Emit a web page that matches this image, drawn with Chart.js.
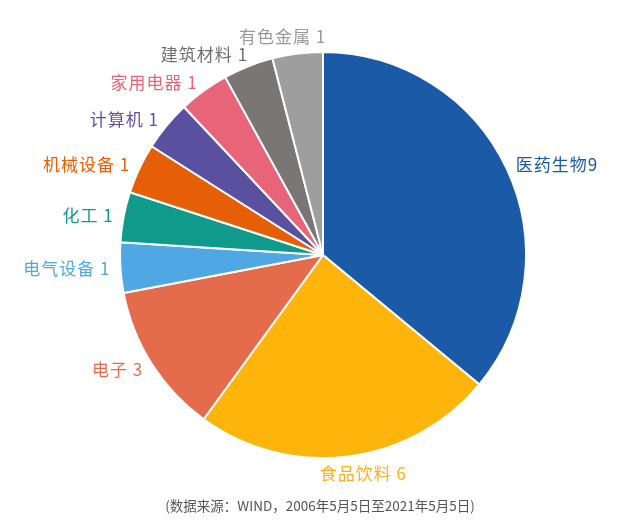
<!DOCTYPE html>
<html>
<head>
<meta charset="utf-8">
<script src="https://cdn.jsdelivr.net/npm/chart.js@4"></script>
<style>
  html, body { margin: 0; padding: 0; background: #fff; }
  #wrap { position: relative; width: 640px; height: 523px; }
  #note {
    position: absolute; left: 0; width: 640px; top: 495px; text-align: center;
    font: 13.5px "Noto Sans CJK SC", sans-serif; color: #555;
  }
</style>
</head>
<body>
<div id="wrap">
  <canvas id="pie" width="640" height="523"></canvas>
  <div id="note">(数据来源：WIND，2006年5月5日至2021年5月5日)</div>
</div>
<script>
(function () {
  'use strict';

  // ── Data ─────────────────────────────────────────
  const sectors = ['医药生物', '食品饮料', '电子', '电气设备', '化工', '机械设备', '计算机', '家用电器', '建筑材料', '有色金属'];
  const counts = [9, 6, 3, 1, 1, 1, 1, 1, 1, 1];
  const sliceColors = ['#1b5aa7', '#fdb50c', '#e46c4d', '#4fa8e3', '#0f9a8c', '#e65f06', '#5b50a0', '#e86478', '#7a7675', '#9e9e9e'];
  const labelColors = ['#1b5aa7', '#f9b120', '#e46c4d', '#4fa8e3', '#0f9a8c', '#e65f06', '#5b50a0', '#e86478', '#707070', '#9a9a9a'];

  function clamp(v) { return Math.max(-1, Math.min(1, v)); }

  // Outside labels, placed from each arc's own geometry
  const outerLabels = {
    id: 'outerLabels',
    afterDatasetsDraw: function (chart) {
      const ctx = chart.ctx;
      const meta = chart.getDatasetMeta(0);
      ctx.save();
      ctx.font = '17px "Noto Sans CJK SC", sans-serif';
      ctx.letterSpacing = '1px';
      ctx.textAlign = 'center';
      ctx.textBaseline = 'middle';
      meta.data.forEach(function (arc, i) {
        const p = arc.getProps(['x', 'y', 'startAngle', 'endAngle', 'outerRadius'], true);
        const mid = (p.startAngle + p.endAngle) / 2;
        const dx = Math.cos(mid), dy = Math.sin(mid);
        const r = p.outerRadius + 10;
        const text = i === 0 ? sectors[i] + counts[i] : sectors[i] + ' ' + counts[i];
        const w = ctx.measureText(text).width;
        const h = 17;
        const cx = p.x + dx * r + clamp(dx * 2.5) * w / 2;
        const cy = p.y + dy * r + dy * Math.pow(Math.abs(dy), 16) * h / 2;
        ctx.fillStyle = labelColors[i];
        ctx.fillText(text, cx, cy);
      });
      ctx.restore();
    }
  };

  new Chart(document.getElementById('pie'), {
    type: 'pie',
    data: {
      labels: sectors,
      datasets: [{
        data: counts,
        backgroundColor: sliceColors,
        borderColor: '#fff',
        borderWidth: 2
      }]
    },
    options: {
      responsive: false,
      animation: false,
      layout: { padding: { top: 51, bottom: 64, left: 119, right: 113 } },
      plugins: {
        legend: { display: false },
        tooltip: { enabled: false }
      }
    },
    plugins: [outerLabels]
  });
})();
</script>
</body>
</html>
